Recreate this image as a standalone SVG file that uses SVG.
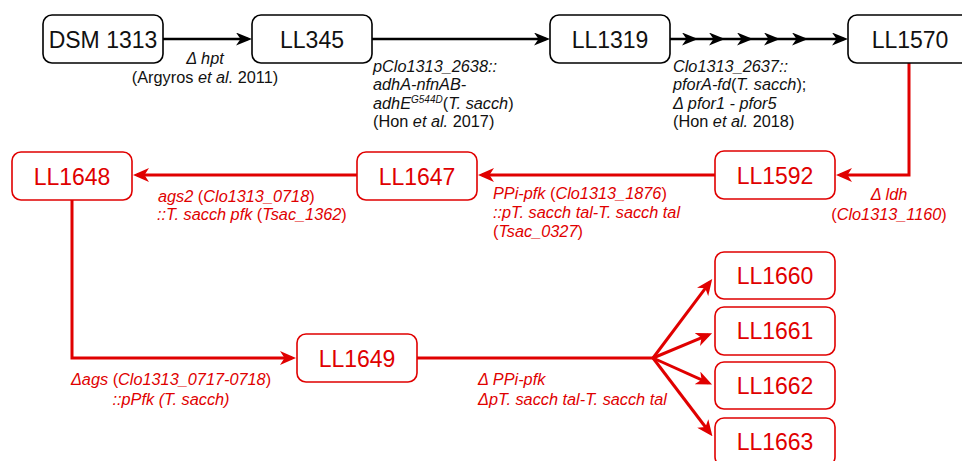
<svg xmlns="http://www.w3.org/2000/svg" width="962" height="461" viewBox="0 0 962 461">
<style>
.bn rect{fill:#fff;stroke:#000;stroke-width:1.6}
.rn rect{fill:#fff;stroke:#e00000;stroke-width:1.6}
.lab{font-family:"Liberation Sans",Arial,sans-serif;font-size:23px;text-anchor:middle}
.bn text{fill:#111}
.rn text{fill:#e00000}
.t{font-family:"Liberation Sans",Arial,sans-serif;font-size:16.3px}
.bt{fill:#111}
.rt{fill:#e00000}
.i{font-style:italic}
.bl{fill:none;stroke:#000;stroke-width:2.6}
.rl{fill:none;stroke:#e00000;stroke-width:3}
</style>
<defs>
<marker id="ab" viewBox="0 0 16 13" refX="12" refY="6.5" markerWidth="16" markerHeight="13" markerUnits="userSpaceOnUse" orient="auto">
<path d="M0,0 L16,6.5 L0,13 L4.5,6.5 z" fill="#000"/>
</marker>
<marker id="ar" viewBox="0 0 16 14" refX="12" refY="7" markerWidth="16" markerHeight="14" markerUnits="userSpaceOnUse" orient="auto">
<path d="M0,0 L16,7 L0,14 L4.5,7 z" fill="#e00000"/>
</marker>
</defs>

<g id="connectors">
<path class="bl" d="M163,39 H248" marker-end="url(#ab)"/>
<path class="bl" d="M372,39 H546" marker-end="url(#ab)"/>
<polyline class="bl" points="670,39 694,39 721,39 749,39 776,39 804,39 844,39" marker-mid="url(#ab)" marker-end="url(#ab)"/>
<path class="rl" d="M909,63 V175 H840" marker-end="url(#ar)"/>
<path class="rl" d="M715,175 H482" marker-end="url(#ar)"/>
<path class="rl" d="M357,175 H137" marker-end="url(#ar)"/>
<path class="rl" d="M72,200 V358 H292" marker-end="url(#ar)"/>
<path class="rl" d="M417,358 H653"/>
<path class="rl" d="M653,358 L709.8,282.3" marker-end="url(#ar)"/>
<path class="rl" d="M653,358 L708.4,334.9" marker-end="url(#ar)"/>
<path class="rl" d="M653,358 L708.4,382.9" marker-end="url(#ar)"/>
<path class="rl" d="M653,358 L710,433" marker-end="url(#ar)"/>
</g>

<g id="DSM1313" class="bn"><rect x="43" y="15" width="120" height="48" rx="9"/><text class="lab" x="103" y="47.5">DSM 1313</text></g>
<g id="LL345" class="bn"><rect x="252" y="15" width="120" height="48" rx="9"/><text class="lab" x="312" y="47.5">LL345</text></g>
<g id="LL1319" class="bn"><rect x="550" y="15" width="120" height="48" rx="9"/><text class="lab" x="610" y="47.5">LL1319</text></g>
<g id="LL1570" class="bn"><rect x="848" y="15" width="122" height="48" rx="9"/><text class="lab" x="910" y="47.5">LL1570</text></g>

<g id="LL1592" class="rn"><rect x="715" y="151" width="120" height="48" rx="9"/><text class="lab" x="775" y="183.5">LL1592</text></g>
<g id="LL1647" class="rn"><rect x="357" y="152" width="120" height="48" rx="9"/><text class="lab" x="417" y="184.5">LL1647</text></g>
<g id="LL1648" class="rn"><rect x="12" y="152" width="120" height="48" rx="9"/><text class="lab" x="72" y="184.5">LL1648</text></g>
<g id="LL1649" class="rn"><rect x="297" y="334" width="120" height="48" rx="9"/><text class="lab" x="357" y="366.5">LL1649</text></g>
<g id="LL1660" class="rn"><rect x="715" y="252" width="120" height="47" rx="9"/><text class="lab" x="775" y="283.5">LL1660</text></g>
<g id="LL1661" class="rn"><rect x="715" y="307" width="120" height="48" rx="9"/><text class="lab" x="775" y="339">LL1661</text></g>
<g id="LL1662" class="rn"><rect x="715" y="362" width="120" height="47" rx="9"/><text class="lab" x="775" y="393.5">LL1662</text></g>
<g id="LL1663" class="rn"><rect x="715" y="418" width="120" height="48" rx="9"/><text class="lab" x="775" y="450">LL1663</text></g>

<g id="labels">
<text class="t bt" x="205" y="64" text-anchor="middle"><tspan class="i">Δ hpt</tspan></text>
<text class="t bt" x="205" y="83" text-anchor="middle">(Argyros <tspan class="i">et al.</tspan> 2011)</text>

<text class="t bt" x="373" y="71.5"><tspan class="i">pClo1313_2638::</tspan></text>
<text class="t bt" x="373" y="90"><tspan class="i">adhA-nfnAB-</tspan></text>
<text class="t bt" x="373" y="108.5"><tspan class="i">adhE</tspan><tspan class="i" font-size="10" dy="-6">G544D</tspan><tspan dy="6">(</tspan><tspan class="i">T. sacch</tspan>)</text>
<text class="t bt" x="373" y="127">(Hon <tspan class="i">et al.</tspan> 2017)</text>

<text class="t bt" x="673" y="71.5"><tspan class="i">Clo1313_2637::</tspan></text>
<text class="t bt" x="673" y="90"><tspan class="i">pforA-fd</tspan>(<tspan class="i">T. sacch</tspan>);</text>
<text class="t bt" x="673" y="108.5"><tspan class="i">Δ pfor1 - pfor5</tspan></text>
<text class="t bt" x="673" y="127">(Hon <tspan class="i">et al.</tspan> 2018)</text>

<text class="t rt" x="889" y="199.5" text-anchor="middle"><tspan class="i">Δ ldh</tspan></text>
<text class="t rt" x="889" y="220" text-anchor="middle">(<tspan class="i">Clo1313_1160</tspan>)</text>

<text class="t rt" x="493" y="198.5"><tspan class="i">PPi-pfk</tspan> (<tspan class="i">Clo1313_1876</tspan>)</text>
<text class="t rt" x="493" y="217.5"><tspan class="i">::pT. sacch tal-T. sacch tal</tspan></text>
<text class="t rt" x="493" y="236.5">(<tspan class="i">Tsac_0327</tspan>)</text>

<text class="t rt" x="158" y="201.5"><tspan class="i">ags2</tspan> (<tspan class="i">Clo1313_0718</tspan>)</text>
<text class="t rt" x="157" y="219.5"><tspan class="i">::T. sacch pfk</tspan> (<tspan class="i">Tsac_1362</tspan>)</text>

<text class="t rt" x="171" y="385" text-anchor="middle"><tspan class="i">Δags</tspan> (<tspan class="i">Clo1313_0717-0718</tspan>)</text>
<text class="t rt" x="171" y="404.5" text-anchor="middle"><tspan class="i">::pPfk (T. sacch)</tspan></text>

<text class="t rt" x="478" y="385"><tspan class="i">Δ PPi-pfk</tspan></text>
<text class="t rt" x="478" y="404.5"><tspan class="i">ΔpT. sacch tal-T. sacch tal</tspan></text>
</g>
</svg>
